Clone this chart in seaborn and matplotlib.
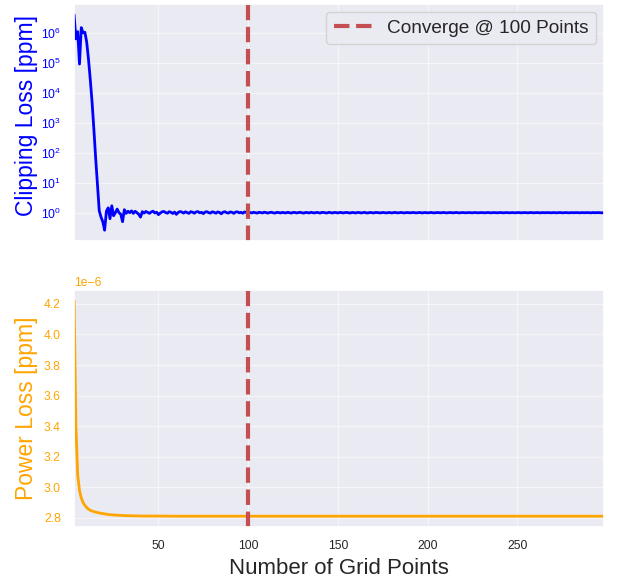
import numpy as np
import pandas as pd
import matplotlib
matplotlib.use("Agg")
import matplotlib.pyplot as plt
import seaborn as sns

# ---------------- data ----------------
grid_points = list(range(3, 299))  # x = 3 .. 298

clip_head = [  # x = 3 .. 40
    4.0e6, 6.3e5, 1.1e6, 9.1e4, 1.5e6, 1.0e6, 1.05e6, 5.0e5, 1.35e5, 2.8e4,
    5.0e3, 630, 68, 8.9, 1.17, 0.71, 0.50, 0.26, 1.12, 1.45,
    0.63, 1.70, 0.79, 1.00, 1.32, 1.00, 0.89, 0.50, 1.26, 0.95,
    1.12, 1.00, 1.15, 0.95, 1.12, 1.00, 0.89, 0.71,
]
clip_mid = [  # x = 41 .. 100
    1.08, 0.97, 1.10, 1.02, 0.95, 1.06, 1.12, 0.98, 1.04, 0.86,
    0.97, 1.07, 1.10, 1.01, 0.96, 1.08, 1.03, 0.94, 1.05, 0.88,
    1.02, 1.09, 1.05, 0.97, 1.07, 1.01, 0.95, 1.08, 1.04, 0.96,
    1.06, 1.09, 0.99, 1.03, 0.93, 1.05, 1.08, 1.00, 0.97, 1.07,
    1.03, 0.96, 1.06, 1.02, 0.92, 1.04, 1.08, 1.00, 0.97, 1.06,
    1.03, 0.95, 1.05, 1.07, 0.99, 1.03, 0.96, 1.06, 1.02, 1.00,
]
clip_tail = [  # x = 101 .. 298
    1.02, 0.98, 1.03, 1.00, 0.97, 1.03, 1.01, 0.98, 1.04, 1.00,
    0.97, 1.02, 1.03, 0.99, 0.97, 1.03, 1.01, 0.98, 1.02, 1.00,
    0.98, 1.03, 1.00, 0.97, 1.02, 1.02, 0.98, 1.01, 1.03, 0.99,
    0.97, 1.02, 1.01, 0.98, 1.03, 1.00, 0.98, 1.02, 1.01, 0.97,
    1.02, 1.02, 0.99, 0.98, 1.03, 1.00, 0.98, 1.02, 1.01, 0.98,
    1.02, 1.01, 0.98, 1.01, 1.02, 0.99, 0.98, 1.02, 1.00, 0.98,
    1.02, 1.01, 0.98, 1.01, 1.02, 0.98, 0.99, 1.02, 1.00, 0.98,
    1.02, 1.01, 0.99, 0.99, 1.02, 1.00, 0.98, 1.01, 1.01, 0.98,
    1.01, 1.02, 0.99, 0.99, 1.02, 1.00, 0.98, 1.01, 1.01, 0.99,
    1.00, 1.02, 0.99, 0.99, 1.01, 1.01, 0.98, 1.01, 1.01, 0.99,
    1.00, 1.02, 0.99, 0.99, 1.01, 1.01, 0.99, 1.00, 1.02, 0.99,
    0.99, 1.01, 1.01, 0.99, 1.00, 1.02, 0.99, 0.99, 1.01, 1.01,
    0.99, 1.00, 1.01, 1.00, 0.99, 1.01, 1.01, 0.99, 1.00, 1.01,
    1.00, 0.99, 1.01, 1.01, 0.99, 1.00, 1.01, 1.00, 0.99, 1.01,
    1.01, 0.99, 1.00, 1.01, 1.00, 0.99, 1.01, 1.00, 0.99, 1.01,
    1.01, 0.99, 1.00, 1.01, 1.00, 0.99, 1.01, 1.01, 0.99, 1.00,
    1.01, 1.00, 0.99, 1.01, 1.00, 1.00, 1.01, 1.00, 0.99, 1.01,
    1.00, 0.99, 1.01, 1.01, 0.99, 1.00, 1.01, 1.00, 0.99, 1.01,
    1.00, 1.00, 1.01, 1.00, 0.99, 1.01, 1.00, 1.00, 1.01, 1.00,
    0.99, 1.01, 1.00, 1.00, 1.01, 1.00, 0.99, 1.00,
]
clip_loss = clip_head + clip_mid + clip_tail

power_x = list(range(3, 41)) + [45, 50, 60, 70, 80, 100, 125, 150, 200, 250, 298]
power_loss = [
    4.22e-6, 3.40e-6, 3.08e-6, 2.98e-6, 2.93e-6, 2.90e-6, 2.882e-6, 2.868e-6, 2.857e-6, 2.850e-6,
    2.845e-6, 2.841e-6, 2.838e-6, 2.835e-6, 2.832e-6, 2.830e-6, 2.828e-6, 2.826e-6, 2.824e-6, 2.822e-6,
    2.821e-6, 2.820e-6, 2.819e-6, 2.818e-6, 2.817e-6, 2.817e-6, 2.816e-6, 2.816e-6, 2.815e-6, 2.815e-6,
    2.814e-6, 2.814e-6, 2.814e-6, 2.813e-6, 2.813e-6, 2.813e-6, 2.813e-6, 2.812e-6,
    2.812e-6, 2.812e-6, 2.811e-6, 2.811e-6, 2.811e-6, 2.811e-6, 2.811e-6, 2.811e-6, 2.811e-6, 2.811e-6, 2.811e-6,
]

converge_at = 100
converge_label = "Converge @ 100 Points"
x_ticks = [50, 100, 150, 200, 250]

# ---------------- style ----------------
sns.set_theme(style="darkgrid", rc={"grid.linewidth": 0.9, "grid.alpha": 0.55})
plt.rcParams["font.family"] = ["Liberation Sans", "DejaVu Sans"]

fig, (ax1, ax2) = plt.subplots(2, 1, sharex=True, figsize=(6.28, 5.81), dpi=100)
fig.subplots_adjust(left=0.118, right=0.961, top=0.993, bottom=0.093, hspace=0.207)

red = "#C44E52"

# top panel
sns.lineplot(x=grid_points, y=clip_loss, ax=ax1, color="blue", linewidth=2)
ax1.set_yscale("log")
ax1.axvline(converge_at, color=red, linestyle="--", linewidth=3, label=converge_label)
ax1.legend(loc="upper right", fontsize=13.7, borderaxespad=0.4)
ax1.set_ylabel("Clipping Loss [ppm]", color="blue", fontsize=16.5)
ax1.tick_params(axis="y", colors="blue", labelsize=8.7)
ax1.yaxis.set_label_coords(-0.068, 0.53)

# bottom panel
sns.lineplot(x=power_x, y=power_loss, ax=ax2, color="orange", linewidth=2)
ax2.axvline(converge_at, color=red, linestyle="--", linewidth=3)
ax2.set_ylabel("Power Loss [ppm]", color="orange", fontsize=16.5)
ax2.tick_params(axis="y", colors="orange", labelsize=8.7)
ax2.tick_params(axis="x", labelsize=8.7)
ax2.yaxis.get_offset_text().set_color("orange")
ax2.yaxis.get_offset_text().set_fontsize(8.7)
ax2.yaxis.set_label_coords(-0.068, 0.5)
ax2.set_xlabel("Number of Grid Points", fontsize=16)
ax2.set_xticks(x_ticks)
ax2.set_xlim(grid_points[0], grid_points[-1])

fig.savefig("out.png", dpi=100)
